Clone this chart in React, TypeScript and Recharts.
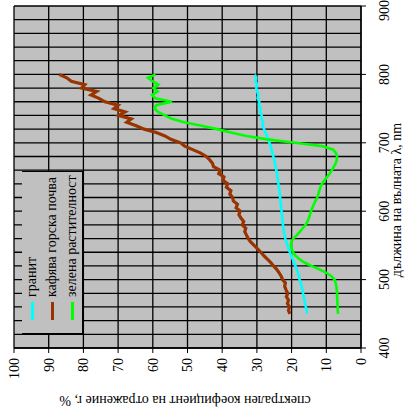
import { LineChart, Line, XAxis, YAxis, CartesianGrid, Legend } from "recharts";

// wavelength, nm
const wavelengths = [
  450, 455, 460, 465, 470, 475, 480, 485, 490, 495,
  500, 505, 510, 515, 520, 525, 530, 535, 540, 545,
  550, 555, 560, 565, 570, 575, 580, 585, 590, 595,
  600, 605, 610, 615, 620, 625, 630, 635, 640, 645,
  650, 655, 660, 665, 670, 675, 680, 685, 690, 695,
  700, 705, 710, 715, 720, 725, 730, 735, 740, 745,
  750, 755, 760, 765, 770, 775, 780, 785, 790, 795,
  800,
];

// reflectance, %
const granite = [
  15.5, 15.7, 15.9, 16.1, 16.3, 16.5, 16.7, 16.9, 17.1, 17.4,
  17.7, 17.9, 18.2, 18.5, 18.9, 19.3, 19.7, 20.1, 20.5, 20.9,
  21.2, 21.5, 21.8, 22.0, 22.2, 22.3, 22.5, 22.6, 22.7, 22.8,
  22.9, 23.0, 23.1, 23.2, 23.3, 23.4, 23.5, 23.7, 23.8, 23.9,
  24.1, 24.2, 24.4, 24.6, 24.8, 25.0, 25.3, 25.5, 25.8, 26.0,
  26.4, 26.8, 27.0, 27.6, 27.9, 28.4, 28.2, 28.7, 28.6, 29.2,
  28.9, 29.4, 29.3, 29.8, 29.6, 29.9, 30.2, 29.9, 30.4, 30.2,
  30.6,
];

const brownSoil = [
  20.5, 20.9, 20.6, 21.2, 20.9, 21.5, 21.1, 21.6, 22.0, 21.8,
  22.6, 23.0, 23.6, 24.3, 25.2, 26.0, 27.0, 28.0, 28.9, 29.8,
  30.8, 31.8, 32.5, 33.0, 33.5, 33.2, 34.2, 33.8, 34.6, 35.2,
  34.8, 36.0, 35.6, 36.8, 37.0, 37.8, 37.5, 38.8, 38.4, 39.8,
  39.5, 41.0, 40.6, 42.5, 42.8, 43.6, 44.6, 46.2, 48.5, 50.8,
  52.0, 54.8, 56.5, 59.0, 62.5, 64.8, 67.5, 66.2, 69.8, 68.0,
  71.2, 70.0, 73.8, 75.5, 77.8, 76.2, 80.5, 79.6, 83.5, 84.8,
  87.0,
];

const greenVegetation = [
  6.6, 6.7, 6.7, 6.8, 6.8, 6.9, 6.9, 7.0, 7.1, 7.3,
  7.6, 8.5, 10.0, 12.0, 14.3, 16.3, 17.8, 18.9, 19.6, 20.0,
  20.2, 20.1, 19.5, 18.5, 17.6, 16.8, 16.0, 15.4, 15.0, 14.7,
  14.4, 14.0, 13.6, 13.1, 12.6, 12.3, 12.0, 11.7, 11.3, 10.5,
  9.8, 9.0, 8.4, 7.8, 7.3, 7.0, 6.9, 7.2, 8.0, 11.0,
  19.0, 27.0, 33.0, 37.5, 41.5, 46.0, 51.0, 54.5, 56.5, 58.5,
  59.5, 59.0, 54.5, 59.3, 60.2, 58.6, 59.8, 58.4, 60.1, 61.4,
  59.2,
];

const seriesNames = ["гранит", "кафява горска почва", "зелена растителност"];

const xDomain = [400, 900];
const xTicks = [400, 500, 600, 700, 800, 900];
const yTicks = [0, 10, 20, 30, 40, 50, 60, 70, 80, 90, 100];
const gridWavelengths = [
  400, 420, 440, 460, 480, 500, 520, 540, 560, 580, 600, 620, 640,
  660, 680, 700, 720, 740, 760, 780, 800, 820, 840, 860, 880, 900,
];

const data = wavelengths.map((wl, i) => ({
  wl,
  granite: granite[i],
  soil: brownSoil[i],
  veg: greenVegetation[i],
}));

const FONT = '"Liberation Serif", "Times New Roman", serif';
const PLOT_BG = "#c0c0c0";

// vertical grid every 20 nm (axis ticks only every 100 nm)
function verticalGrid({ xAxis, offset }: any) {
  const scale = xAxis && typeof xAxis.scale === "function" ? xAxis.scale : null;
  return gridWavelengths.map((w) =>
    scale
      ? scale(w)
      : offset.left + ((w - xDomain[0]) / (xDomain[1] - xDomain[0])) * offset.width
  );
}

function LegendBox({ payload }: any) {
  // keep the series order, not the alphabetical one
  const items = [...(payload || [])].sort(
    (a: any, b: any) => seriesNames.indexOf(a.value) - seriesNames.indexOf(b.value)
  );
  return (
    <div
      style={{
        width: 163,
        height: 61,
        boxSizing: "border-box",
        background: PLOT_BG,
        borderLeft: "1px solid #000",
        borderRight: "1px solid #000",
        borderBottom: "1px solid #000",
        fontFamily: FONT,
        fontSize: 14,
        color: "#000",
      }}
    >
      {items.map((entry: any) => (
        <div
          key={entry.value}
          style={{ height: 20, display: "flex", alignItems: "center" }}
        >
          <span
            style={{
              display: "inline-block",
              width: 18,
              height: 3,
              marginLeft: 13,
              background: entry.color,
            }}
          />
          <span style={{ marginLeft: 5, whiteSpace: "nowrap" }}>{entry.value}</span>
        </div>
      ))}
    </div>
  );
}

function SpectraChart() {
  return (
    <LineChart
      width={410}
      height={416}
      data={data}
      margin={{ top: 14, right: 6, bottom: 25, left: 2 }}
      style={{ fontFamily: FONT }}
    >
      <CartesianGrid
        fill={PLOT_BG}
        stroke="#000"
        strokeWidth={1.3}
        strokeOpacity={1}
        verticalCoordinatesGenerator={verticalGrid}
      />
      <XAxis
        dataKey="wl"
        type="number"
        domain={xDomain}
        ticks={xTicks}
        height={30}
        tickSize={5}
        tickMargin={13}
        axisLine={{ stroke: "#000", strokeWidth: 1.3 }}
        tickLine={{ stroke: "#000" }}
        tick={{ fill: "#000", fontSize: 14, fontFamily: FONT }}
        label={{
          content: () => (
            <text x={210} y={401} textAnchor="middle" fontSize={14} fontFamily={FONT} fill="#000">
              дължина на вълната λ, nm
            </text>
          ),
        }}
      />
      <YAxis
        type="number"
        domain={[0, 100]}
        ticks={yTicks}
        width={60}
        tickSize={5}
        tickMargin={5}
        axisLine={{ stroke: "#000", strokeWidth: 1.3 }}
        tickLine={{ stroke: "#000" }}
        tick={{ fill: "#000", fontSize: 14, fontFamily: FONT }}
        label={{
          content: () => (
            <text
              x={14}
              y={185}
              transform="rotate(-90, 14, 185)"
              textAnchor="middle"
              fontSize={14}
              fontFamily={FONT}
              fill="#000"
            >
              спектрален коефициент на отражение r, %
            </text>
          ),
        }}
      />
      <Legend
        layout="vertical"
        align="center"
        verticalAlign="middle"
        content={<LegendBox />}
        wrapperStyle={{ position: "absolute", left: 76, top: 22, width: 163, height: 61 }}
      />
      <Line
        dataKey="granite"
        name={seriesNames[0]}
        stroke="#00ffff"
        strokeWidth={2.6}
        dot={false}
        isAnimationActive={false}
      />
      <Line
        dataKey="soil"
        name={seriesNames[1]}
        stroke="#993300"
        strokeWidth={3.2}
        dot={false}
        isAnimationActive={false}
      />
      <Line
        dataKey="veg"
        name={seriesNames[2]}
        stroke="#00ff00"
        strokeWidth={2.6}
        dot={false}
        isAnimationActive={false}
      />
    </LineChart>
  );
}

export default function App() {
  // the chart is laid out with wavelength along x and then turned a quarter-turn counter-clockwise
  return (
    <div style={{ position: "absolute", left: 0, top: 0, width: 416, height: 410, overflow: "hidden", background: "#fff" }}>
      <div
        style={{
          position: "absolute",
          left: 0,
          top: 0,
          width: 410,
          height: 416,
          transformOrigin: "0 0",
          transform: "translateY(410px) rotate(-90deg)",
        }}
      >
        <SpectraChart />
      </div>
    </div>
  );
}
